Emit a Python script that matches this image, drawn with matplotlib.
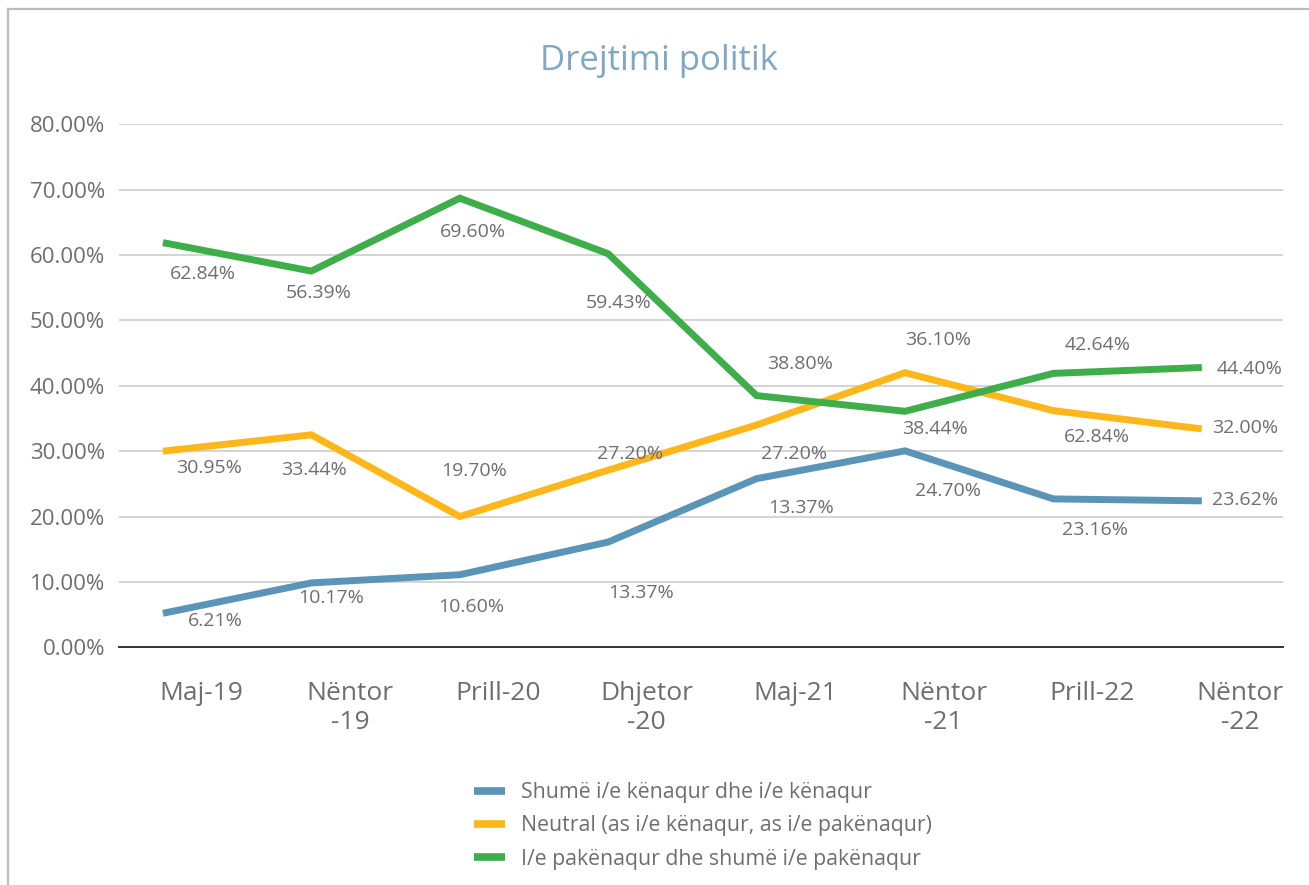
import numpy as np
import matplotlib
matplotlib.use('Agg')
import matplotlib.pyplot as plt
from matplotlib.lines import Line2D

# ---------------- data ----------------
categories = ['Maj-19', 'Nëntor\n-19', 'Prill-20', 'Dhjetor\n-20',
              'Maj-21', 'Nëntor\n-21', 'Prill-22', 'Nëntor\n-22']
series_names = ['Shumë i/e kënaqur dhe i/e kënaqur',
                'Neutral (as i/e kënaqur, as i/e pakënaqur)',
                'I/e pakënaqur dhe shumë i/e pakënaqur']
satisfied = [5.2, 9.85, 11.1, 16.1, 25.8, 30.05, 22.7, 22.4]
neutral = [30.0, 32.5, 20.0, 27.1, 34.0, 42.0, 36.2, 33.4]
dissatisfied = [61.9, 57.55, 68.7, 60.2, 38.5, 36.1, 41.9, 42.8]

satisfied_labels = ['6.21%', '10.17%', '10.60%', '13.37%', '13.37%', '24.70%', '23.16%', '23.62%']
neutral_labels = ['30.95%', '33.44%', '19.70%', '27.20%', '27.20%', '36.10%', '62.84%', '32.00%']
dissatisfied_labels = ['62.84%', '56.39%', '69.60%', '59.43%', '38.80%', '38.44%', '42.64%', '44.40%']

y_ticks = [0, 10, 20, 30, 40, 50, 60, 70, 80]
title = 'Drejtimi politik'

# ---------------- layout (label placement in data units) ----------------
satisfied_label_pos = [(0.35, 4.05), (1.13, 7.47), (2.08, 6.19), (3.22, 8.23),
                       (4.30, 21.24), (5.29, 23.9), (6.28, 18.0), (7.29, 22.52)]
neutral_label_pos = [(0.31, 27.38), (1.02, 27.06), (2.10, 26.95), (3.15, 29.63),
                     (4.25, 29.52), (5.22, 46.95), (6.29, 32.13), (7.29, 33.6)]
dissatisfied_label_pos = [(0.27, 57.09), (1.05, 54.18), (2.09, 63.6), (3.07, 52.65),
                          (4.29, 43.38), (5.20, 33.33), (6.30, 46.29), (7.32, 42.55)]

# ---------------- style ----------------
FONT = 'Open Sans'
TEXT_C = '#6D6E71'
colors = ['#5A95B7', '#FDB71A', '#3DAE4A']
plt.rcParams['font.family'] = [FONT, 'DejaVu Sans']

W, H = 1309, 885
fig = plt.figure(figsize=(W / 100, H / 100), dpi=100)
fig.patch.set_facecolor('white')

left_px, right_px, top_px, bot_px = 119, 1283, 124.3, 647.3
ax = fig.add_axes([left_px / W, 1 - bot_px / H,
                   (right_px - left_px) / W, (bot_px - top_px) / H])

x = np.arange(len(categories))
all_series = [satisfied, neutral, dissatisfied]
all_labels = [satisfied_labels, neutral_labels, dissatisfied_labels]
all_pos = [satisfied_label_pos, neutral_label_pos, dissatisfied_label_pos]

for vals, c, name in zip(all_series, colors, series_names):
    ax.plot(x, vals, color=c, lw=5.0, solid_joinstyle='miter',
            solid_capstyle='butt', label=name, zorder=3)

for labs, pos in zip(all_labels, all_pos):
    for t, (px, py) in zip(labs, pos):
        ax.text(px, py, t, ha='center', va='center', fontsize=14,
                color=TEXT_C, zorder=4)

ax.set_xlim(-0.296, 7.547)
ax.set_ylim(0, 80)
ax.set_yticks(y_ticks)
ax.set_yticklabels([f'{v:.2f}%' for v in y_ticks])
ax.set_xticks(x + 0.26)
ax.set_xticklabels(categories, linespacing=1.25)
ax.tick_params(axis='both', length=0, colors=TEXT_C)
ax.tick_params(axis='y', labelsize=16, pad=10)
ax.tick_params(axis='x', labelsize=19, pad=24)
for lab in ax.get_yticklabels() + ax.get_xticklabels():
    lab.set_color(TEXT_C)

ax.grid(axis='y', color='#D4D4D4', lw=1.4, zorder=0)
ax.set_axisbelow(True)
for s in ['top', 'right', 'left']:
    ax.spines[s].set_visible(False)
ax.spines['bottom'].set_color('#333333')
ax.spines['bottom'].set_linewidth(1.4)
ax.spines['bottom'].set_zorder(2)

fig.text(659 / W, 1 - 61 / H, title, ha='center', va='center',
         fontsize=25, color='#80A8C4')

handles = [Line2D([], [], color=c, lw=5.5, solid_capstyle='butt') for c in colors]
fig.legend(handles, series_names, loc='upper left',
           bbox_to_anchor=(474 / W, 1 - 782 / H), frameon=False,
           fontsize=15.3, handlelength=1.45, handletextpad=0.75,
           labelspacing=0.58, borderpad=0, borderaxespad=0, labelcolor=TEXT_C)

# outer frame (left and top edges)
fig.add_artist(Line2D([8 / W, 8 / W], [0, 1 - 8.5 / H], transform=fig.transFigure,
                      color='#BDBDBD', lw=1.6))
fig.add_artist(Line2D([8 / W, 1], [1 - 8.5 / H, 1 - 8.5 / H], transform=fig.transFigure,
                      color='#BDBDBD', lw=1.6))

fig.savefig('out.png', dpi=100, facecolor='white')
